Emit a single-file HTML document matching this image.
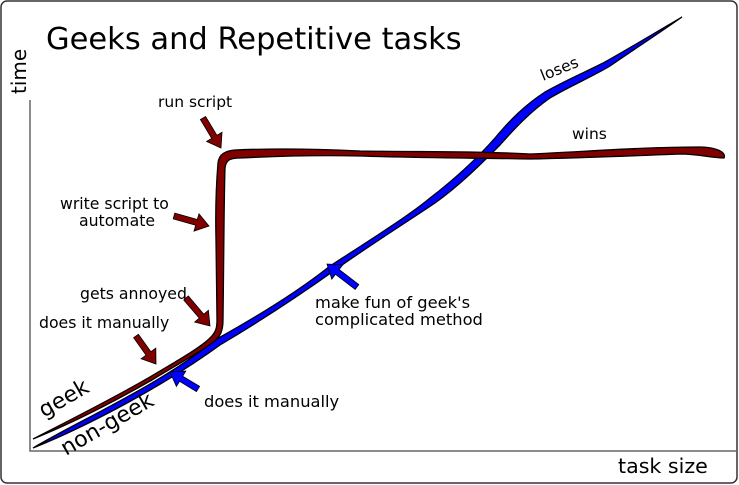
<!DOCTYPE html>
<html><head><meta charset="utf-8"><style>
html,body{margin:0;padding:0;background:#fff}
svg{display:block}
text{font-family:"DejaVu Sans","Liberation Sans",sans-serif;fill:#000}
</style></head><body>
<svg id="s" width="739" height="485" viewBox="0 0 739 485" xmlns="http://www.w3.org/2000/svg">
<rect x="1" y="1" width="736" height="482" rx="6" fill="#fff" stroke="#333" stroke-width="1.5"/>
<path d="M30 100 L30 451 L737 451" fill="none" stroke="#666" stroke-width="1.5"/>
<path d="M33 448 C80 420 160 385 215 340 C260 315 300 290 330 266 C370 240 410 215 430 198 C460 175 480 155 495 138 C510 120 525 105 545 92 C570 78 590 70 605 62 C630 48 660 30 682 17 C655 36 630 52 610 66 C590 78 570 86 550 98 C530 112 515 128 500 145 C480 165 460 185 435 203 C410 220 370 245 335 270 C300 295 262 320 220 345 C165 385 90 425 33 448 Z" fill="#00f" stroke="#000" stroke-width="1.3"/>
<path d="M33 439 C70 420 110 400 150 377 C175 362 200 348 210 338 C216 332 217 328 217 320 L216 240 C215 200 217 175 218 163 C219 154 225 151 235 150 C280 148 320 149 360 151 C420 152 480 151 530 154 C580 152 640 147 700 147 C715 147 727 152 724 158 C710 158 700 154 680 154 C630 156 580 158 530 159 C480 158 420 158 360 156 C320 155 280 156 240 158 C230 158 226 160 225 168 C224 200 224 240 223 320 C223 330 221 337 212 343 C200 352 175 366 152 380 C110 404 70 424 33 439 Z" fill="#800000" stroke="#000" stroke-width="1.3"/>
<g id="arrows"></g>
<text x="46" y="49" font-size="30.5">Geeks and Repetitive tasks</text>
<text transform="translate(26 94) rotate(-90)" font-size="20">time</text>
<text x="618" y="473" font-size="20.6">task size</text>
<text x="158" y="107" font-size="15.5">run script</text>
<text x="60" y="209" font-size="15.7">write script to</text>
<text x="79" y="226" font-size="15.7">automate</text>
<text x="80" y="299" font-size="15.7">gets annoyed</text>
<text x="39" y="328" font-size="15.7">does it manually</text>
<text x="204" y="407" font-size="16.3">does it manually</text>
<text x="315" y="308" font-size="16.3">make fun of geek's</text>
<text x="315" y="325" font-size="16.3">complicated method</text>
<text transform="translate(543 81) rotate(-22)" font-size="15.5">loses</text>
<text x="572" y="139" font-size="15.5">wins</text>
<text transform="translate(44 418) rotate(-30)" font-size="22">geek</text>
<text transform="translate(66 456) rotate(-30)" font-size="22">non-geek</text>
</svg>
<script>
var g=document.getElementById('arrows');
function arr(x1,y1,x2,y2,c){var dx=x2-x1,dy=y2-y1,L=Math.hypot(dx,dy),ux=dx/L,uy=dy/L,px=-uy,py=ux;
var hl=13,hw=9,sw=3;var bx=x2-ux*hl,by=y2-uy*hl;
var p=[[x1+px*sw,y1+py*sw],[bx+px*sw,by+py*sw],[bx+px*hw,by+py*hw],[x2,y2],[bx-px*hw,by-py*hw],[bx-px*sw,by-py*sw],[x1-px*sw,y1-py*sw]];
var e=document.createElementNS('http://www.w3.org/2000/svg','polygon');
e.setAttribute('points',p.map(function(q){return q[0].toFixed(1)+','+q[1].toFixed(1)}).join(' '));
e.setAttribute('fill',c);e.setAttribute('stroke','#000');e.setAttribute('stroke-width','0.8');g.appendChild(e);}
var R='#800000',B='#00f';
arr(203,118,221,148,R);arr(174,216,209,226,R);arr(186,298,210,326,R);arr(136,336,156,364,R);
arr(198,389,170,372,B);arr(357,287,327,264,B);
</script>
</body></html>
